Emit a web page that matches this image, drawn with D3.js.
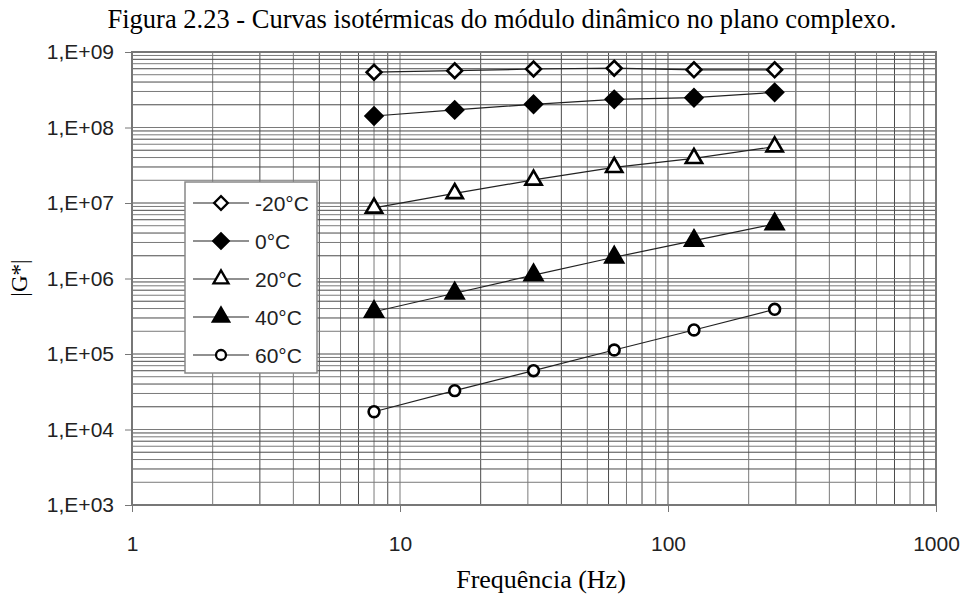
<!DOCTYPE html>
<html>
<head>
<meta charset="utf-8">
<script src="https://cdn.jsdelivr.net/npm/d3@7"></script>
<style>
  body { margin: 0; background: #fff; }
  svg { display: block; }
</style>
</head>
<body>
<div id="chart"></div>
<script>
// frequencies (Hz) and |G*| values per temperature
const freqs = [8, 16, 31.5, 63, 125, 250];
const seriesNames = ["-20°C", "0°C", "20°C", "40°C", "60°C"];
const gMinus20 = [5.4e8, 5.65e8, 5.95e8, 6.1e8, 5.8e8, 5.8e8];
const g0 = [1.42e8, 1.71e8, 2.03e8, 2.36e8, 2.48e8, 2.92e8];
const g20 = [8.6e6, 1.34e7, 2.02e7, 2.97e7, 3.91e7, 5.57e7];
const g40 = [3.63e5, 6.37e5, 1.11e6, 1.91e6, 3.17e6, 5.27e6];
const g60 = [1.72e4, 3.27e4, 6.01e4, 1.13e5, 2.08e5, 3.91e5];
const xTickLabels = ["1", "10", "100", "1000"];
const yTickLabels = ["1,E+03", "1,E+04", "1,E+05", "1,E+06", "1,E+07", "1,E+08", "1,E+09"];

const width = 964, height = 596;
const margin = { top: 52, right: 28, bottom: 91, left: 132 };

const svg = d3.select("#chart").append("svg")
  .attr("width", width)
  .attr("height", height);

const x = d3.scaleLog().domain([1, 1000]).range([margin.left, width - margin.right]);
const y = d3.scaleLog().domain([1e3, 1e9]).range([height - margin.bottom, margin.top]);

// grid lines: every 1..9 within each decade
const xGrid = [];
[1, 10, 100].forEach(d => { for (let k = 1; k < 10; k++) xGrid.push(k * d); });
xGrid.push(1000);
const yGrid = [];
[1e3, 1e4, 1e5, 1e6, 1e7, 1e8].forEach(d => { for (let k = 1; k < 10; k++) yGrid.push(k * d); });
yGrid.push(1e9);

const grid = svg.append("g").attr("class", "grid");
grid.selectAll("line.gx")
  .data(xGrid)
  .join("line")
  .attr("class", "gx")
  .attr("x1", d => x(d)).attr("x2", d => x(d))
  .attr("y1", y(1e3)).attr("y2", y(1e9))
  .attr("stroke", (d, i) => i % 2 ? "#7a7a7a" : "#4a4a4a")
  .attr("stroke-width", 1);

grid.selectAll("line.gy")
  .data(yGrid)
  .join("line")
  .attr("class", "gy")
  .attr("y1", d => y(d)).attr("y2", d => y(d))
  .attr("x1", x(1)).attr("x2", x(1000))
  .attr("stroke", (d, i) => i % 2 ? "#7a7a7a" : "#4a4a4a")
  .attr("stroke-width", 1);

// plot frame
svg.append("rect")
  .attr("x", x(1)).attr("y", y(1e9))
  .attr("width", x(1000) - x(1)).attr("height", y(1e3) - y(1e9))
  .attr("fill", "none")
  .attr("stroke", "#777")
  .attr("stroke-width", 2);

// axes
const xAxis = svg.append("g")
  .attr("transform", `translate(0,${y(1e3)})`)
  .call(d3.axisBottom(x).tickValues([1, 10, 100, 1000])
    .tickFormat((d, i) => xTickLabels[i]).tickSize(7).tickPadding(24));
const yAxis = svg.append("g")
  .attr("transform", `translate(${x(1)},0)`)
  .call(d3.axisLeft(y).tickValues([1e3, 1e4, 1e5, 1e6, 1e7, 1e8, 1e9])
    .tickFormat((d, i) => yTickLabels[i]).tickSize(7).tickPadding(11));
[xAxis, yAxis].forEach(a => {
  a.select(".domain").remove();
  a.selectAll(".tick line").attr("stroke", "#777");
  a.selectAll(".tick text")
    .attr("fill", "#222")
    .style("font-family", "Arial, 'Liberation Sans', sans-serif")
    .style("font-size", "21px");
});

// series
const series = [
  { name: seriesNames[0], values: gMinus20, shape: "diamond", fill: "#fff" },
  { name: seriesNames[1], values: g0, shape: "diamond", fill: "#000" },
  { name: seriesNames[2], values: g20, shape: "triangle", fill: "#fff" },
  { name: seriesNames[3], values: g40, shape: "triangle", fill: "#000" },
  { name: seriesNames[4], values: g60, shape: "circle", fill: "#fff" }
];

function markerPath(s, scale) {
  if (s.shape === "diamond") return d3.symbol(d3.symbolSquare, (s.fill === "#000" ? 140 : 110) * scale)();
  if (s.shape === "triangle") return d3.symbol(d3.symbolTriangle, (s.fill === "#000" ? 135 : 115) * scale)();
  return d3.symbol(d3.symbolCircle, 92 * scale)();
}
function markerRot(s) { return s.shape === "diamond" ? " rotate(45)" : ""; }

const line = d3.line().x(d => x(d[0])).y(d => y(d[1]));

series.forEach(s => {
  const pts = freqs.map((f, i) => [f, s.values[i]]);
  svg.append("path")
    .attr("d", line(pts))
    .attr("fill", "none")
    .attr("stroke", "#222")
    .attr("stroke-width", 1.2);
  svg.append("g").selectAll("path")
    .data(pts)
    .join("path")
    .attr("transform", d => `translate(${x(d[0])},${y(d[1])})${markerRot(s)}`)
    .attr("d", markerPath(s, 1))
    .attr("fill", s.fill)
    .attr("stroke", "#000")
    .attr("stroke-width", 2.6);
});

// legend
const legend = svg.append("g").attr("transform", "translate(185,182)");
legend.append("rect")
  .attr("width", 132).attr("height", 191)
  .attr("fill", "#fff")
  .attr("stroke", "#888")
  .attr("stroke-width", 1.5);
series.forEach((s, i) => {
  const ly = 21 + i * 38;
  const row = legend.append("g").attr("transform", `translate(0,${ly})`);
  row.append("line")
    .attr("x1", 8).attr("x2", 64)
    .attr("stroke", "#222").attr("stroke-width", 1.2);
  row.append("path")
    .attr("transform", `translate(36,0)${markerRot(s)}`)
    .attr("d", markerPath(s, 0.85))
    .attr("fill", s.fill)
    .attr("stroke", "#000")
    .attr("stroke-width", 2.3);
  row.append("text")
    .attr("x", 70).attr("dy", "0.36em")
    .attr("fill", "#222")
    .style("font-family", "Arial, 'Liberation Sans', sans-serif")
    .style("font-size", "21px")
    .text(s.name);
});

// titles
svg.append("text")
  .attr("x", 502).attr("y", 28)
  .attr("text-anchor", "middle")
  .style("font-family", "'Times New Roman', 'Liberation Serif', serif")
  .style("font-size", "26.5px")
  .text("Figura 2.23 - Curvas isotérmicas do módulo dinâmico no plano complexo.");

svg.append("text")
  .attr("x", 541).attr("y", 588)
  .attr("text-anchor", "middle")
  .style("font-family", "'Times New Roman', 'Liberation Serif', serif")
  .style("font-size", "26px")
  .text("Frequência (Hz)");

svg.append("text")
  .attr("transform", "translate(27,278) rotate(-90)")
  .attr("text-anchor", "middle")
  .style("font-family", "'Times New Roman', 'Liberation Serif', serif")
  .style("font-size", "23px")
  .text("|G*|");
</script>
</body>
</html>
